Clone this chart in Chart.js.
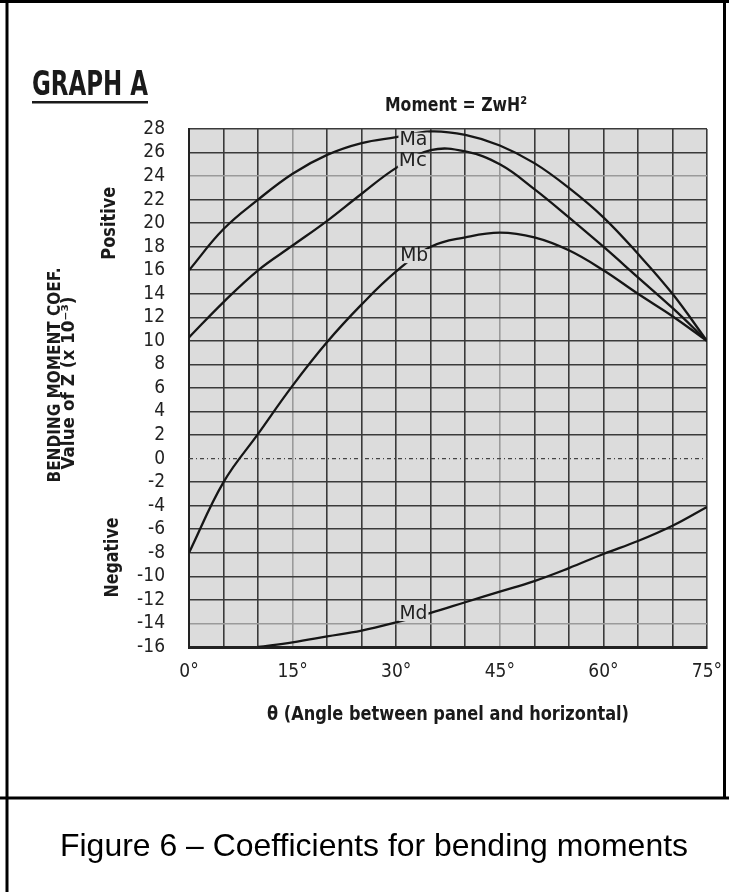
<!DOCTYPE html>
<html>
<head>
<meta charset="utf-8">
<script src="https://cdn.jsdelivr.net/npm/chart.js@4"></script>
<style>
  body { margin: 0; background: #fff; }
  canvas { display: block; }
</style>
</head>
<body>
<canvas id="grafico" width="729" height="892"></canvas>
<script>
// Datos (grados vs coeficiente x 10^-3)
const angulos = [0, 5, 10, 15, 20, 25, 30, 35, 40, 45, 50, 55, 60, 65, 70, 75];
const valoresMa = [16, 19.5, 22, 24.2, 25.8, 26.8, 27.3, 27.8, 27.5, 26.6, 25.1, 23.0, 20.5, 17.4, 14.0, 10];
const valoresMc = [10.3, 13.3, 16, 18.1, 20.2, 22.5, 24.7, 26.2, 26.1, 25.0, 22.9, 20.5, 18.0, 15.4, 12.8, 10];
const valoresMb = [-8, -2, 2.1, 6.2, 9.9, 13.1, 15.9, 18, 18.8, 19.2, 18.8, 17.7, 16.0, 14.0, 12.1, 10];
const angulosMd = [10, 15, 20, 25, 30, 35, 40, 45, 50, 55, 60, 65, 70, 75];
const valoresMd = [-16, -15.6, -15.1, -14.6, -13.9, -13.1, -12.2, -11.3, -10.4, -9.3, -8.1, -7.0, -5.7, -4.1];
const lineaCero = [0, 0];
const extremosX = [0, 75];

// etiquetas de cada curva: [texto, angulo, valor]
const etiquetasCurvas = [['Ma', 32.5, 27.1], ['Mc', 32.4, 25.3], ['Mb', 32.6, 17.2], ['Md', 32.5, -13.2]];

const FONDO = '#dcdcdc';
const CONDENSADA = "'Liberation Sans Narrow', 'DejaVu Sans Condensed', sans-serif";

function aPuntos(xs, ys) {
    const pts = [];
    for (let i = 0; i < xs.length; i++) pts.push({x: xs[i], y: ys[i]});
    return pts;
}

// dibuja un texto ajustado a un ancho dado (la fuente original es muy estrecha)
function textoAjustado(ctx, texto, x, y, ancho, fuente, vertical) {
    ctx.save();
    ctx.font = fuente;
    const w = ctx.measureText(texto).width;
    ctx.translate(x, y);
    if (vertical) ctx.rotate(-Math.PI / 2);
    ctx.scale(ancho / w, 1);
    ctx.textAlign = 'center';
    ctx.textBaseline = 'middle';
    ctx.fillText(texto, 0, 0);
    ctx.restore();
}

const marcoYTextos = {
    id: 'marcoYTextos',
    beforeDraw(chart) {
        const ctx = chart.ctx;
        const a = chart.chartArea;
        ctx.save();
        ctx.fillStyle = '#fff';
        ctx.fillRect(0, 0, chart.width, chart.height);
        ctx.fillStyle = FONDO;
        ctx.fillRect(a.left, a.top, a.right - a.left, a.bottom - a.top);

        // marco exterior
        ctx.strokeStyle = '#000';
        ctx.lineWidth = 3;
        ctx.beginPath();
        ctx.moveTo(7, 0); ctx.lineTo(7, 892);
        ctx.moveTo(0, 1.5); ctx.lineTo(729, 1.5);
        ctx.moveTo(724.5, 0); ctx.lineTo(724.5, 798);
        ctx.moveTo(0, 798); ctx.lineTo(729, 798);
        ctx.stroke();

        ctx.fillStyle = '#1a1a1a';
        textoAjustado(ctx, 'GRAPH A', 90, 86, 116, "bold 34px " + CONDENSADA);
        ctx.fillRect(32, 101, 116, 2.5);
        textoAjustado(ctx, 'Moment = ZwH\u00b2', 456, 106, 142, "bold 20px " + CONDENSADA);

        const y = chart.scales.y;
        textoAjustado(ctx, 'BENDING MOMENT COEF.', 56, 375, 215, "bold 17px " + CONDENSADA, true);
        textoAjustado(ctx, 'Value of Z (x 10\u207b\u00b3)', 70, 383, 173, "bold 17px " + CONDENSADA, true);
        textoAjustado(ctx, 'Positive', 110, y.getPixelForValue(20), 73, "bold 20px " + CONDENSADA, true);
        textoAjustado(ctx, 'Negative', 113, y.getPixelForValue(-8.4), 80, "bold 20px " + CONDENSADA, true);

        textoAjustado(ctx, '\u03b8 (Angle between panel and horizontal)', (a.left + a.right) / 2, 715, 362, "bold 19px " + CONDENSADA);

        ctx.fillStyle = '#000';
        textoAjustado(ctx, 'Figure 6 \u2013 Coefficients for bending moments', 374, 847, 628, "32px 'Liberation Sans', Arial, sans-serif");
        ctx.restore();
    },
    afterDatasetsDraw(chart) {
        const ctx = chart.ctx;
        const sx = chart.scales.x, sy = chart.scales.y;
        ctx.save();
        for (const [texto, ang, val] of etiquetasCurvas) {
            const px = sx.getPixelForValue(ang);
            const py = sy.getPixelForValue(val);
            ctx.fillStyle = FONDO;
            ctx.fillRect(px - 15, py - 7, 30, 14);
            ctx.fillStyle = '#222';
            textoAjustado(ctx, texto, px, py, 28, "20px " + CONDENSADA);
        }
        ctx.restore();
    }
};

function colorGridY(c) {
    const v = c.tick.value;
    if (v === 0) return 'rgba(0,0,0,0)';
    if (v === 24 || v === -14) return '#9a9a9a';
    return '#3a3a3a';
}
function colorGridX(c) {
    const v = c.tick.value;
    if (v === 15 || v === 45) return '#9a9a9a';
    return '#3a3a3a';
}

const estiloCurva = {
    borderColor: '#161616',
    borderWidth: 2.3,
    pointRadius: 0,
    fill: false,
    tension: 0.4
};

const ctx = document.getElementById('grafico').getContext('2d');
const miGrafico = new Chart(ctx, {
    type: 'line',
    data: {
        datasets: [
            Object.assign({label: 'Ma', data: aPuntos(angulos, valoresMa)}, estiloCurva),
            Object.assign({label: 'Mc', data: aPuntos(angulos, valoresMc)}, estiloCurva),
            Object.assign({label: 'Mb', data: aPuntos(angulos, valoresMb)}, estiloCurva),
            Object.assign({label: 'Md', data: aPuntos(angulosMd, valoresMd)}, estiloCurva),
            {
                label: 'cero',
                data: aPuntos(extremosX, lineaCero),
                borderColor: '#444',
                borderWidth: 1.2,
                borderDash: [4, 3, 1, 3],
                pointRadius: 0,
                fill: false
            }
        ]
    },
    plugins: [marcoYTextos],
    options: {
        responsive: false,
        animation: false,
        layout: { padding: { top: 129, right: 22, left: 0, bottom: 0 } },
        plugins: {
            legend: { display: false },
            tooltip: { enabled: false }
        },
        scales: {
            x: {
                type: 'linear',
                min: 0,
                max: 75,
                // sin relleno extra por la etiqueta "75°"
                afterFit: s => { s.height = 245; s.paddingLeft = 0; s.paddingRight = 0; },
                grid: { color: colorGridX, lineWidth: 1.6, drawTicks: false },
                border: { color: '#222', width: 3 },
                ticks: {
                    stepSize: 5,
                    autoSkip: false,
                    maxRotation: 0,
                    padding: 14,
                    color: '#222',
                    font: { family: CONDENSADA, size: 19 },
                    callback: v => (v % 15 === 0 ? v + '\u00b0' : '')
                }
            },
            y: {
                type: 'linear',
                min: -16,
                max: 28,
                afterFit: s => { s.width = 189; s.paddingTop = 0; s.paddingBottom = 0; },
                grid: { color: colorGridY, lineWidth: 1.6, drawTicks: false },
                border: { color: '#222', width: 2 },
                ticks: {
                    stepSize: 2,
                    autoSkip: false,
                    padding: 24,
                    color: '#222',
                    font: { family: CONDENSADA, size: 19 }
                }
            }
        }
    }
});
</script>
</body>
</html>
